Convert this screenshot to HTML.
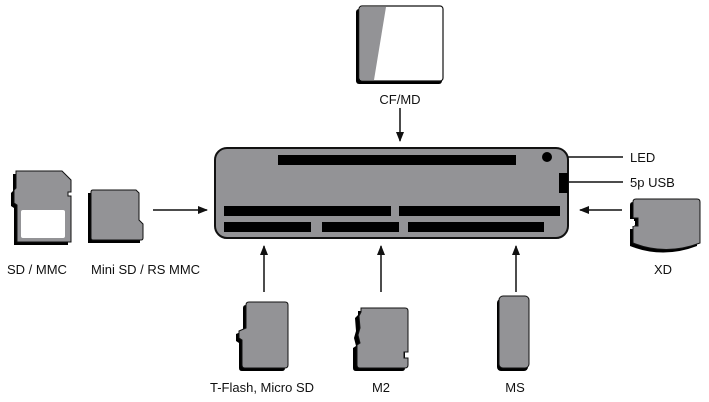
<!DOCTYPE html>
<html><head><meta charset="utf-8"><style>
html,body{margin:0;padding:0;background:#fff;}
svg{display:block;}
text{font-family:"Liberation Sans",sans-serif;font-size:13px;fill:#111;}
</style></head><body>
<svg width="709" height="402" viewBox="0 0 709 402" xmlns="http://www.w3.org/2000/svg">
<defs>
<marker id="ah" markerWidth="10" markerHeight="8" refX="9" refY="4" orient="auto" markerUnits="userSpaceOnUse">
<path d="M0,0 L10,4 L0,8 Z" fill="#111"/></marker>
</defs>
<g stroke="#111" stroke-width="1.5" fill="none">
<line x1="400" y1="108" x2="400" y2="141" marker-end="url(#ah)"/>
<line x1="153" y1="210" x2="207" y2="210" marker-end="url(#ah)"/>
<line x1="622" y1="210" x2="580" y2="210" marker-end="url(#ah)"/>
<line x1="264" y1="292" x2="264" y2="246" marker-end="url(#ah)"/>
<line x1="381" y1="292" x2="381" y2="246" marker-end="url(#ah)"/>
<line x1="516" y1="292" x2="516" y2="246" marker-end="url(#ah)"/>
<line x1="550" y1="157" x2="623" y2="157"/>
<line x1="568" y1="182" x2="623" y2="182"/>
</g>
<rect x="215" y="148" width="353" height="90" rx="12" fill="#939396" stroke="#111" stroke-width="2"/>
<g fill="#000">
<rect x="278" y="155" width="238" height="10"/>
<rect x="224" y="206" width="167" height="10"/>
<rect x="399" y="206" width="161" height="10"/>
<rect x="224" y="222" width="87" height="10"/>
<rect x="322" y="222" width="77" height="10"/>
<rect x="408" y="222" width="136" height="10"/>
<circle cx="547" cy="157" r="5"/>
<rect x="559" y="173" width="9" height="20"/>
</g>
<text x="630" y="162">LED</text>
<text x="630" y="187">5p USB</text>
<rect x="356" y="9" width="86" height="75" rx="3" fill="#000"/>
<rect x="359" y="6" width="84" height="75" rx="3" fill="#fff" stroke="#111" stroke-width="1.2"/>
<path d="M360,7 L386,7 L374,80 L360,80 Z" fill="#939396"/>
<text x="400" y="104" text-anchor="middle">CF/MD</text>
<g>
<path transform="translate(-3,3)" d="M16,171 L62,171 L71,180 L71,242 L17,242 L17,205 L14,203 L14,190 L16,188 Z" fill="#000"/>
<path d="M16,171 L62,171 L71,180 L71,192 L68,192 L68,196 L71,196 L71,242 L17,242 L17,205 L14,203 L14,190 L16,188 Z" fill="#939396" stroke="#111" stroke-width="1"/>
<rect x="21" y="210" width="44" height="28" rx="2" fill="#fff"/>
</g>
<path transform="translate(-3,3)" d="M91,190 L136,190 L139,193 L139,220 L143,224 L143,240 L91,240 Z" fill="#000"/>
<path d="M93,190 L136,190 L139,193 L139,220 L143,224 L143,238 Q143,240 141,240 L93,240 Q91,240 91,238 L91,192 Q91,190 93,190 Z" fill="#939396" stroke="#111" stroke-width="1"/>
<text x="7" y="274">SD / MMC</text>
<text x="91" y="274">Mini SD / RS MMC</text>
<path transform="translate(-3,3)" d="M636,199 L697,199 Q700,199 700,202 L700,243 Q666,256 633,243 L633,226 L638,226 L638,218 L633,218 L633,202 Q633,199 636,199 Z" fill="#000"/>
<path d="M636,199 L697,199 Q700,199 700,202 L700,243 Q666,256 633,243 L633,226 L638,226 L638,218 L633,218 L633,202 Q633,199 636,199 Z" fill="#939396" stroke="#111" stroke-width="1"/>
<rect x="629" y="219" width="5" height="7" fill="#fff"/>
<text x="663" y="274" text-anchor="middle">XD</text>
<path transform="translate(-3,3)" d="M249,302 L285,302 Q288,302 288,305 L288,365 Q288,368 285,368 L245,368 Q242,368 242,365 L242,340 L239,338 L239,331 L246,328 L246,305 Q246,302 249,302 Z" fill="#000"/>
<path d="M249,302 L285,302 Q288,302 288,305 L288,365 Q288,368 285,368 L245,368 Q242,368 242,365 L242,340 L239,338 L239,331 L246,328 L246,305 Q246,302 249,302 Z" fill="#939396" stroke="#111" stroke-width="1"/>
<text x="262" y="392" text-anchor="middle">T-Flash, Micro SD</text>
<path transform="translate(-3,3)" d="M361,308 L405,308 Q408,308 408,311 L408,365 Q408,368 405,368 L359,368 Q356,368 356,365 L356,345 L359,343 L357,335 L359,328 L358,315 L361,312 Z" fill="#000"/>
<path d="M361,308 L405,308 Q408,308 408,311 L408,352 L404,352 L404,358 L408,358 L408,365 Q408,368 405,368 L360,368 Q357,368 357,365 L357,345 L360,343 L358,335 L360,328 L359,316 L361,312 Z" fill="#939396" stroke="#111" stroke-width="1"/>
<text x="381" y="392" text-anchor="middle">M2</text>
<rect x="497" y="299" width="31" height="72" rx="4" fill="#000"/>
<rect x="499" y="296" width="30" height="72" rx="4" fill="#939396" stroke="#111" stroke-width="1"/>
<text x="515" y="392" text-anchor="middle">MS</text>
</svg>
</body></html>
